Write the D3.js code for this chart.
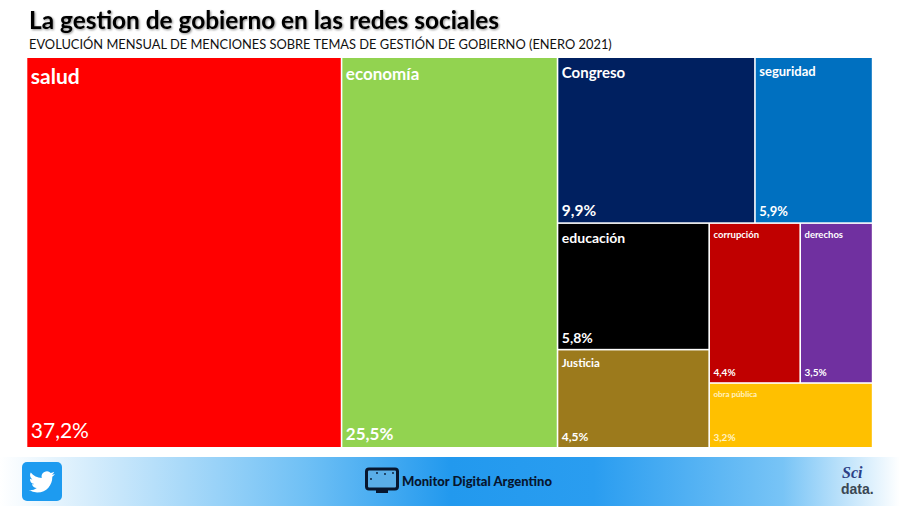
<!DOCTYPE html>
<html><head><meta charset="utf-8">
<script src="https://cdn.jsdelivr.net/npm/d3@7/dist/d3.min.js"></script>
<style>html,body{margin:0;padding:0;background:#fff}svg{display:block}text{font-family:Lato,"Open Sans",sans-serif}</style>
</head><body><svg id="c" width="900" height="506"></svg>
<script>
const categories = ["salud","economía","Congreso","seguridad","educación","Justicia","corrupción","derechos","obra pública"];
const values = [37.2,25.5,9.9,5.9,5.8,4.5,4.4,3.5,3.2];
const colors = ["#ff0000","#92d350","#002060","#0070c0","#000000","#9c7a1c","#c00000","#7030a0","#ffc000"];
const nameSizes = [21,17,15,13,14,11.5,9.5,9.5,8];
const valueSizes = [21,17,15.5,13,14,12,10,10,10];
const fmt = v => d3.format(".1f")(v).replace(".", ",") + "%";

const leaf = i => ({i, value: values[i]});
const tree = {dir:"x", children:[leaf(0), leaf(1),
  {dir:"y", children:[
    {dir:"x", children:[leaf(2), leaf(3)]},
    {dir:"x", children:[
      {dir:"y", children:[leaf(4), leaf(5)]},
      {dir:"y", children:[
        {dir:"x", children:[leaf(6), leaf(7)]},
        leaf(8)
      ]}
    ]}
  ]}
]};
const svg = d3.select("#c");
const defs = svg.append("defs");
const f = defs.append("filter").attr("id","sh").attr("x","-5%").attr("y","-20%").attr("width","110%").attr("height","150%");
f.append("feDropShadow").attr("dx",1).attr("dy",1).attr("stdDeviation",1).attr("flood-color","#000").attr("flood-opacity",0.45);
const g = defs.append("linearGradient").attr("id","band");
[[0,"#ffffff"],[0.34,"#6fc0f5"],[0.5,"#2299ee"],[0.66,"#2a9df0"],[0.87,"#78c4f6"],[1,"#ffffff"]]
  .forEach(([o,c])=>g.append("stop").attr("offset",o).attr("stop-color",c));

svg.append("text").attr("x",29).attr("y",29).attr("font-size",24.4).attr("font-weight",700).attr("fill","#000").attr("filter","url(#sh)")
  .text("La gestion de gobierno en las redes sociales");
svg.append("text").attr("x",29).attr("y",49).attr("font-size",12.85).attr("fill","#111")
  .text("EVOLUCIÓN MENSUAL DE MENCIONES SOBRE TEMAS DE GESTIÓN DE GOBIERNO (ENERO 2021)");

const root = d3.hierarchy(tree).sum(d=>d.value||0);
d3.treemap().size([844.5,389]).paddingInner(1.6)
  .tile((n,x0,y0,x1,y1)=> (n.data.dir==="x"?d3.treemapDice:d3.treemapSlice)(n,x0,y0,x1,y1))(root);

const plot = svg.append("g").attr("transform","translate(27.3,58)");
const cells = plot.selectAll("g").data(root.leaves()).join("g")
  .attr("transform",d=>`translate(${d.x0},${d.y0})`);
cells.append("rect").attr("width",d=>d.x1-d.x0).attr("height",d=>d.y1-d.y0)
  .attr("fill",d=>colors[d.data.i]);
cells.append("text").attr("x",3.5).attr("y",d=>nameSizes[d.data.i]+5)
  .attr("font-size",d=>nameSizes[d.data.i]).attr("font-weight",700)
  .attr("fill",d=>d.data.i===8?"#fff2c4":"#fff").text(d=>categories[d.data.i]);
cells.append("text").attr("x",3.5).attr("y",d=>d.y1-d.y0-Math.max(6,valueSizes[d.data.i]*0.42))
  .attr("font-size",d=>valueSizes[d.data.i]).attr("font-weight",d=>valueSizes[d.data.i]>20?400:700)
  .attr("fill",d=>d.data.i===8?"#fff2c4":"#fff").text(d=>fmt(values[d.data.i]));

svg.append("rect").attr("x",0).attr("y",457).attr("width",900).attr("height",49).attr("fill","url(#band)");
const tw = svg.append("g").attr("transform","translate(22,462)");
tw.append("rect").attr("width",40).attr("height",39).attr("rx",5).attr("fill","#1d9bf0");
tw.append("path").attr("transform","translate(7,7) scale(1.08)").attr("fill","#fff")
  .attr("d","M23.953 4.57a10 10 0 01-2.825.775 4.958 4.958 0 002.163-2.723c-.951.555-2.005.959-3.127 1.184a4.92 4.92 0 00-8.384 4.482C7.69 8.095 4.067 6.13 1.64 3.162a4.822 4.822 0 00-.666 2.475c0 1.71.87 3.213 2.188 4.096a4.904 4.904 0 01-2.228-.616v.06a4.923 4.923 0 003.946 4.827 4.996 4.996 0 01-2.212.085 4.936 4.936 0 004.604 3.417 9.867 9.867 0 01-6.102 2.105c-.39 0-.779-.023-1.17-.067a13.995 13.995 0 007.557 2.209c9.053 0 13.998-7.496 13.998-13.985 0-.21 0-.42-.015-.63A9.935 9.935 0 0024 4.59z");
const m = svg.append("g");
m.append("rect").attr("x",366.5).attr("y",469).attr("width",31).attr("height",20).attr("rx",2.5).attr("fill","#5aaee8").attr("stroke","#07162e").attr("stroke-width",3);
m.append("rect").attr("x",376).attr("y",490).attr("width",12).attr("height",3).attr("fill","#07162e");
[[377,473],[385,474],[393,473],[371,479]].forEach(p=>m.append("circle").attr("cx",p[0]).attr("cy",p[1]).attr("r",0.9).attr("fill","#07162e"));
svg.append("text").attr("x",402).attr("y",486).attr("font-size",13).attr("font-weight",900).attr("fill","#07162e").text("Monitor Digital Argentino");
svg.append("text").attr("x",842).attr("y",478).attr("font-size",16).attr("font-style","italic").attr("font-weight",700).style("font-family","'Liberation Serif',serif").attr("fill","#2c3f86").text("Sci");
svg.append("text").attr("x",841).attr("y",494).attr("font-size",14).attr("font-weight",700).style("font-family","'Liberation Sans',sans-serif").attr("fill","#3a4652").text("data.");
</script></body></html>
